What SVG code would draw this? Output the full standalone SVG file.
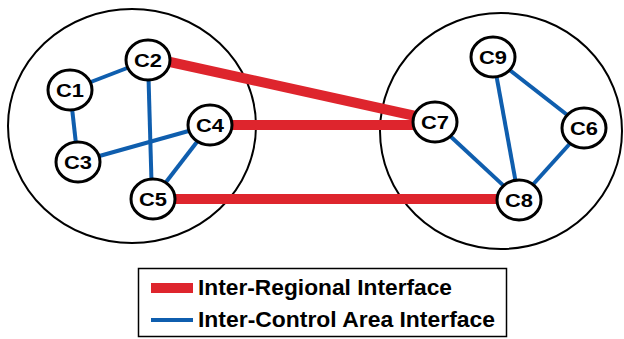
<svg xmlns="http://www.w3.org/2000/svg" width="624" height="339" viewBox="0 0 624 339">
<style>
.region{fill:none;stroke:#000;stroke-width:2}
.node ellipse{fill:#fff;stroke:#000;stroke-width:3}
.node text{font-family:"Liberation Sans",Arial,sans-serif;font-weight:bold;font-size:19px;text-anchor:middle;fill:#000}
.red{stroke:#de252d;stroke-width:10;fill:none}
.blue{stroke:#0f5eae;stroke-width:4;fill:none}
.leg{font-family:"Liberation Sans",Arial,sans-serif;font-weight:bold;font-size:21.5px;fill:#000}
</style>
<rect width="624" height="339" fill="#fff"/>
<g id="regions">
<ellipse class="region" cx="132" cy="126" rx="124" ry="117"/>
<ellipse class="region" cx="501" cy="131" rx="121" ry="118"/>
</g>
<g id="connectors">
<line class="blue" x1="70" y1="90" x2="148" y2="60"/>
<line class="blue" x1="70" y1="90" x2="78" y2="162"/>
<line class="blue" x1="148" y1="60" x2="152" y2="199"/>
<line class="blue" x1="78" y1="162" x2="210" y2="125"/>
<line class="blue" x1="210" y1="125" x2="153" y2="199"/>
<line class="blue" x1="493" y1="57" x2="519" y2="200"/>
<line class="blue" x1="493" y1="57" x2="584" y2="128"/>
<line class="blue" x1="584" y1="128" x2="519" y2="200"/>
<line class="blue" x1="435" y1="122" x2="519" y2="200"/>
<line class="red" x1="170" y1="62" x2="420" y2="117"/>
<line class="red" x1="230" y1="125" x2="420" y2="125"/>
<line class="red" x1="175" y1="199" x2="505" y2="199"/>
</g>
<g id="C1" class="node"><ellipse cx="70" cy="90" rx="22" ry="20"/><text x="70" y="97" textLength="28" lengthAdjust="spacingAndGlyphs">C1</text></g>
<g id="C2" class="node"><ellipse cx="148" cy="60" rx="22" ry="20"/><text x="148" y="67" textLength="28" lengthAdjust="spacingAndGlyphs">C2</text></g>
<g id="C3" class="node"><ellipse cx="78" cy="162" rx="22" ry="20"/><text x="78" y="169" textLength="28" lengthAdjust="spacingAndGlyphs">C3</text></g>
<g id="C4" class="node"><ellipse cx="210" cy="125" rx="22" ry="20"/><text x="210" y="132" textLength="28" lengthAdjust="spacingAndGlyphs">C4</text></g>
<g id="C5" class="node"><ellipse cx="153" cy="199" rx="22" ry="20"/><text x="153" y="206" textLength="28" lengthAdjust="spacingAndGlyphs">C5</text></g>
<g id="C7" class="node"><ellipse cx="435" cy="122" rx="22" ry="20"/><text x="435" y="129" textLength="28" lengthAdjust="spacingAndGlyphs">C7</text></g>
<g id="C9" class="node"><ellipse cx="493" cy="57" rx="22" ry="20"/><text x="493" y="64" textLength="28" lengthAdjust="spacingAndGlyphs">C9</text></g>
<g id="C6" class="node"><ellipse cx="584" cy="128" rx="22" ry="20"/><text x="584" y="135" textLength="28" lengthAdjust="spacingAndGlyphs">C6</text></g>
<g id="C8" class="node"><ellipse cx="519" cy="200" rx="22" ry="20"/><text x="519" y="207" textLength="28" lengthAdjust="spacingAndGlyphs">C8</text></g>
<g id="legend">
<rect x="138.5" y="268.5" width="368" height="68" fill="#fff" stroke="#000" stroke-width="1.5"/>
<line class="red" x1="151" y1="288" x2="193" y2="288"/>
<line class="blue" x1="151" y1="320" x2="193" y2="320"/>
<text class="leg" x="198" y="295" textLength="254" lengthAdjust="spacingAndGlyphs">Inter-Regional Interface</text>
<text class="leg" x="198" y="327" textLength="297" lengthAdjust="spacingAndGlyphs">Inter-Control Area Interface</text>
</g>
</svg>
